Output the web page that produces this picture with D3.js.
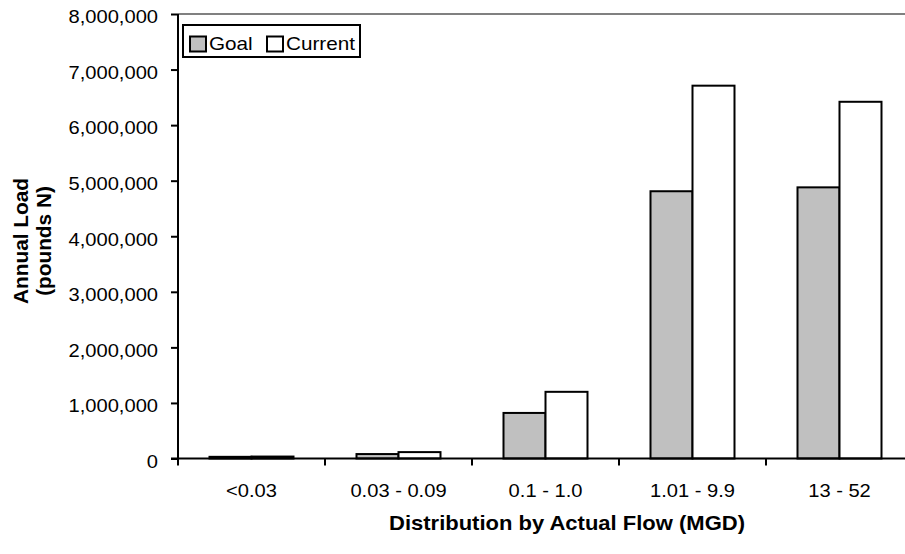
<!DOCTYPE html>
<html>
<head>
<meta charset="utf-8">
<script src="https://cdn.jsdelivr.net/npm/d3@7"></script>
<style>
  body { margin: 0; background: #fff; }
  text { font-family: Arial, "Liberation Sans", sans-serif; fill: #000; }
</style>
</head>
<body>
<div id="chart"></div>
<script>
// chart data
const categories = ["<0.03", "0.03 - 0.09", "0.1 - 1.0", "1.01 - 9.9", "13 - 52"];
const series = ["Goal", "Current"];
const goalValues = [30000, 80000, 820000, 4810000, 4880000];
const currentValues = [35000, 115000, 1200000, 6710000, 6420000];
const yTicks = [0, 1000000, 2000000, 3000000, 4000000, 5000000, 6000000, 7000000, 8000000];
const colors = { Goal: "#c0c0c0", Current: "#ffffff" };

const width = 905, height = 554;
const plotLeft = 178, plotTop = 14, plotBottom = 458.5;
const lw = 2;
// the original's text is drawn a bit wider than normal Arial
const sx = 1.15;

const rows = categories.map((c, i) => ({ cat: c, Goal: goalValues[i], Current: currentValues[i] }));

const svg = d3.select("#chart").append("svg")
    .attr("width", width)
    .attr("height", height);

// scales (plot area runs past the right edge, like the original)
const x = d3.scaleBand()
    .domain(categories)
    .range([plotLeft, plotLeft + 5 * 147])
    .paddingInner(0.4286)
    .paddingOuter(0.2143);

const xs = d3.scaleBand()
    .domain(series)
    .range([0, x.bandwidth()]);

const y = d3.scaleLinear()
    .domain([0, 8000000])
    .range([plotBottom, plotTop]);

// top border of plot area
svg.append("line")
    .attr("x1", plotLeft).attr("x2", width)
    .attr("y1", plotTop).attr("y2", plotTop)
    .attr("stroke", "#808080").attr("stroke-width", lw);

// bars
svg.append("g")
    .selectAll("g")
    .data(rows)
    .join("g")
    .attr("transform", d => `translate(${x(d.cat)},0)`)
    .selectAll("rect")
    .data(d => series.map(s => ({ s, v: d[s] })))
    .join("rect")
    .attr("x", d => xs(d.s))
    .attr("y", d => y(d.v))
    .attr("width", xs.bandwidth())
    .attr("height", d => plotBottom - y(d.v))
    .attr("fill", d => colors[d.s])
    .attr("stroke", "#000")
    .attr("stroke-width", lw);

// y axis
const yAxis = svg.append("g")
    .attr("transform", `translate(${plotLeft},0)`)
    .call(d3.axisLeft(y).tickValues(yTicks).tickFormat(d3.format(",")).tickSize(7).tickPadding(13));
yAxis.select(".domain").attr("stroke-width", lw).attr("d", `M0,${plotTop}V${plotBottom}`);
yAxis.selectAll(".tick line").attr("stroke-width", lw);
yAxis.selectAll(".tick text")
    .style("font-size", "17.5px")
    .attr("x", -20 / sx)
    .attr("dy", "0.5em")
    .attr("transform", `scale(${sx},1)`);

// x axis: line plus ticks at category boundaries
svg.append("line")
    .attr("x1", plotLeft - 7).attr("x2", width)
    .attr("y1", plotBottom).attr("y2", plotBottom)
    .attr("stroke", "#000").attr("stroke-width", lw);

const bounds = categories.map(c => x(c) - x.step() * x.paddingOuter());
svg.append("g")
    .selectAll("line")
    .data(bounds)
    .join("line")
    .attr("x1", d => d).attr("x2", d => d)
    .attr("y1", plotBottom).attr("y2", plotBottom + 7)
    .attr("stroke", "#000").attr("stroke-width", lw);

svg.append("g")
    .selectAll("text")
    .data(categories)
    .join("text")
    .attr("transform", d => `translate(${x(d) + x.bandwidth() / 2},497) scale(${sx},1)`)
    .attr("text-anchor", "middle")
    .style("font-size", "17.5px")
    .text(d => d);

// axis titles
svg.append("text")
    .attr("transform", "translate(567,530) scale(1.1,1)")
    .attr("text-anchor", "middle")
    .style("font-size", "20px").style("font-weight", "bold")
    .text("Distribution by Actual Flow (MGD)");

const yTitle = svg.append("text")
    .attr("transform", "translate(28,241) rotate(-90) scale(1.04,1)")
    .attr("text-anchor", "middle")
    .style("font-size", "20px").style("font-weight", "bold");
yTitle.append("tspan").attr("x", 0).attr("dy", 0).text("Annual Load");
yTitle.append("tspan").attr("x", 0).attr("dy", 23).text("(pounds N)");

// legend
const legend = svg.append("g").attr("transform", "translate(183,25)");
legend.append("rect")
    .attr("width", 177).attr("height", 32)
    .attr("fill", "#fff").attr("stroke", "#000").attr("stroke-width", lw);
const items = [{ s: "Goal", x: 7 }, { s: "Current", x: 84 }];
items.forEach(it => {
    legend.append("rect")
        .attr("x", it.x).attr("y", 11.5)
        .attr("width", 16).attr("height", 15)
        .attr("fill", colors[it.s]).attr("stroke", "#000").attr("stroke-width", lw);
    legend.append("text")
        .attr("transform", `translate(${it.x + 19},25) scale(${sx},1)`)
        .style("font-size", "18px")
        .text(it.s);
});
</script>
</body>
</html>
